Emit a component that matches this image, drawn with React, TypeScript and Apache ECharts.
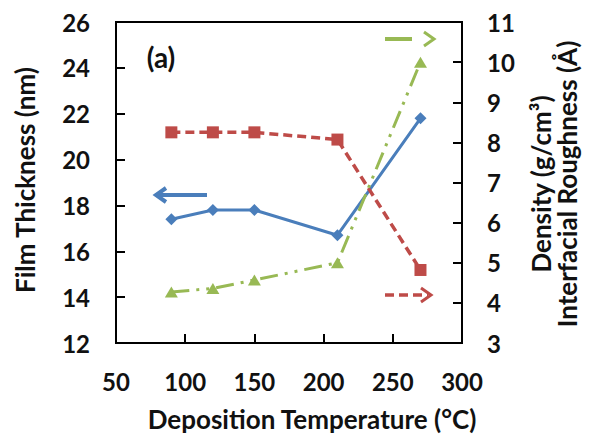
import React, { useEffect, useRef } from "react";
import * as echarts from "echarts";

const temperatures = [90, 120, 150, 210, 270];
const filmThickness = [17.4, 17.8, 17.8, 16.7, 21.8];
const density = [8.25, 8.25, 8.25, 8.07, 4.82];
const roughness = [4.27, 4.36, 4.57, 5.0, 10.0];

const xTicks = { min: 50, max: 300, interval: 50 };
const leftTicks = { min: 12, max: 26, interval: 2 };
const rightTicks = { min: 3, max: 11, interval: 1 };

const BLUE = "#4a7ebb";
const RED = "#be4b48";
const GREEN = "#98b954";
const FONT = "Lato";

const pair = (xs: number[], ys: number[]) => xs.map((x, i) => [x, ys[i]]);

export default function App() {
  const ref = useRef<HTMLDivElement>(null);
  useEffect(() => {
    if (!ref.current) return;
    const chart = echarts.init(ref.current, null, { renderer: "svg" });
    const tickLabel = {
      fontFamily: FONT,
      fontWeight: "bold" as const,
      fontSize: 24,
      color: "#111",
    };
    const axisCommon = {
      axisLine: { show: true, lineStyle: { color: "#000", width: 2 } },
      axisTick: { show: true, inside: true, length: 9, lineStyle: { color: "#000", width: 2 } },
      splitLine: { show: false },
    };
    const titleStyle = {
      fontFamily: FONT,
      fontWeight: "bold" as const,
      fontSize: 26,
      lineHeight: 26,
      fill: "#111",
      align: "center" as const,
      verticalAlign: "middle" as const,
    };
    const chevron = (x: number, y: number, dir: number, color: string, w: number) => ({
      type: "polyline",
      shape: { points: [[x - dir * 10, y - 7], [x, y], [x - dir * 10, y + 7]] },
      style: { stroke: color, lineWidth: w, fill: null },
    });
    chart.setOption({
      animation: false,
      backgroundColor: "#fff",
      grid: {
        left: 116,
        top: 22,
        width: 346,
        height: 321,
        show: true,
        borderColor: "#000",
        borderWidth: 2,
      },
      xAxis: {
        type: "value",
        ...xTicks,
        ...axisCommon,
        axisLabel: { ...tickLabel, margin: 26 },
      },
      yAxis: [
        {
          type: "value",
          position: "left",
          ...leftTicks,
          ...axisCommon,
          axisLabel: { ...tickLabel, margin: 26 },
        },
        {
          type: "value",
          position: "right",
          ...rightTicks,
          ...axisCommon,
          axisLabel: { ...tickLabel, margin: 25 },
        },
      ],
      series: [
        {
          name: "Film Thickness (nm)",
          type: "line",
          yAxisIndex: 0,
          data: pair(temperatures, filmThickness),
          symbol: "diamond",
          symbolSize: 12,
          lineStyle: { color: BLUE, width: 3 },
          itemStyle: { color: BLUE },
        },
        {
          name: "Density (g/cm³)",
          type: "line",
          yAxisIndex: 1,
          data: pair(temperatures, density),
          symbol: "rect",
          symbolSize: 12,
          lineStyle: { color: RED, width: 3.5, type: [9, 5] },
          itemStyle: { color: RED },
        },
        {
          name: "Interfacial Roughness (Å)",
          type: "line",
          yAxisIndex: 1,
          data: pair(temperatures, roughness),
          symbol: "triangle",
          symbolSize: [13, 11],
          lineStyle: { color: GREEN, width: 3, type: [18, 7, 3, 7, 3, 7] },
          itemStyle: { color: GREEN },
        },
      ],
      graphic: [
        { type: "text", x: 25, y: 180, rotation: Math.PI / 2, style: { ...titleStyle, text: "Film Thickness (nm)" } },
        { type: "text", x: 312, y: 419, style: { ...titleStyle, text: "Deposition Temperature (°C)" } },
        { type: "text", x: 541, y: 184, rotation: Math.PI / 2, style: { ...titleStyle, text: "Density (g/cm³)" } },
        { type: "text", x: 567, y: 184, rotation: Math.PI / 2, style: { ...titleStyle, text: "Interfacial Roughness (Å)" } },
        { type: "text", x: 161, y: 57, style: { ...titleStyle, fontSize: 28, lineHeight: 28, text: "(a)" } },
        { type: "line", shape: { x1: 157, y1: 195, x2: 207, y2: 195 }, style: { stroke: BLUE, lineWidth: 4 } },
        chevron(156, 195, -1, BLUE, 4),
        { type: "line", shape: { x1: 385, y1: 295, x2: 428, y2: 295 }, style: { stroke: RED, lineWidth: 3.5, lineDash: [9, 5] } },
        chevron(431, 295, 1, RED, 3),
        { type: "line", shape: { x1: 385, y1: 39, x2: 412, y2: 39 }, style: { stroke: GREEN, lineWidth: 4 } },
        chevron(434, 39, 1, GREEN, 3),
      ],
    });
    return () => chart.dispose();
  }, []);
  return (
    <div
      ref={ref}
      style={{ position: "absolute", left: 0, top: 0, width: 590, height: 435, background: "#fff" }}
    />
  );
}
